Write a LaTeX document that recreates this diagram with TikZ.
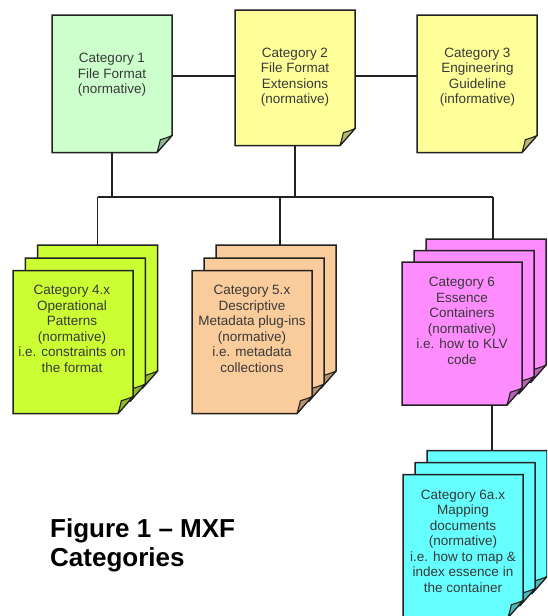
\documentclass[tikz,border=0pt]{standalone}
\usepackage{fontspec}
\setmainfont{Liberation Sans}
\definecolor{cgreen}{HTML}{CCFFCC}
\definecolor{cyellow}{HTML}{FFFF99}
\definecolor{clime}{HTML}{CCFF33}
\definecolor{cpeach}{HTML}{FACC9C}
\definecolor{cpink}{HTML}{FF8CFF}
\definecolor{ccyan}{HTML}{66FFFF}
\definecolor{ink}{HTML}{222222}
% #1 name, #2 x, #3 y (top), #4 fill, #5 height
\newcommand\docpage[5]{%
  \begin{scope}[shift={(#2,#3)}]
    \draw[pageline, fill=#4] (0,0) -- (120,0) -- (120,#5-17) -- (105,#5) -- (0,#5) -- cycle;
    \draw[foldline, fill=#4!72!black] (105,#5) .. controls (106.5,#5-5) and (107.5,#5-9) .. (108.3,#5-12.7)
      .. controls (112,#5-14) and (116,#5-15) .. (120,#5-17) -- cycle;
    \node[anchorbox, minimum height=#5 pt, anchor=north west] (#1) at (0,0) {};
  \end{scope}}
\begin{document}
\begin{tikzpicture}[x=1pt,y=-1pt,
  pageline/.style={draw=ink, line width=1.5pt, line join=miter},
  foldline/.style={draw=ink, line width=1.1pt, line join=round},
  conn/.style={draw=ink, line width=1.4pt},
  lbl/.style={align=center, font=\fontsize{13.5}{15.5}\selectfont, text=ink!90, inner sep=0pt},
  anchorbox/.style={minimum width=120pt, inner sep=0pt, draw=none, outer sep=0pt}]
\useasboundingbox (0,0) rectangle (547,616);
\begin{scope}
\clip (0,0) rectangle (547,616);
% top row
\docpage{c1}{52}{15}{cgreen}{137.5}
\docpage{c2}{235}{10}{cyellow}{135.5}
\docpage{c3}{417}{15}{cyellow}{137.5}
% category 4 stack
\docpage{c4b}{37.5}{245}{clime}{143}
\docpage{c4m}{25.3}{258}{clime}{143}
\docpage{c4}{13}{270.5}{clime}{143}
% category 5 stack
\docpage{c5b}{216}{245}{cpeach}{143}
\docpage{c5m}{204}{258}{cpeach}{143}
\docpage{c5}{192}{270.5}{cpeach}{143}
% category 6 stack
\docpage{c6b}{426}{239}{cpink}{143}
\docpage{c6m}{414}{250.5}{cpink}{143}
\docpage{c6}{402}{262}{cpink}{143}
% category 6a stack
\docpage{c6ab}{427}{450.5}{ccyan}{143}
\docpage{c6am}{415}{462.5}{ccyan}{143}
\docpage{c6a}{403}{474.5}{ccyan}{143}
\end{scope}
% labels
\node[lbl] (t1) at (112,75) {Category 1\\File Format\\(normative)};
\node[lbl] (t2) at (295,77) {Category 2\\File Format\\Extensions\\(normative)};
\node[lbl] (t3) at (477.5,77) {Category 3\\Engineering\\Guideline\\(informative)};
\node[lbl] (t4) at (72,329) {Category 4.x\\Operational\\Patterns\\(normative)\\i.e. constraints on\\the format};
\node[lbl] (t5) at (252,329) {Category 5.x\\Descriptive\\Metadata plug-ins\\(normative)\\i.e. metadata\\collections};
\node[lbl] (t6) at (462,321) {Category 6\\Essence\\Containers\\(normative)\\i.e. how to KLV\\code};
\node[lbl] (t6a) at (463,541) {Category 6a.x\\Mapping\\documents\\(normative)\\i.e. how to map \&\\index essence in\\the container};
% connectors
\coordinate (hl) at (0,76);
\coordinate (busL) at (97.7,197);
\coordinate (busM) at (280,197);
\coordinate (busR) at (493,197);
\coordinate (d6) at (492,0);
\draw[conn] (c1.east |- hl) -- (c2.west |- hl);
\draw[conn] (c2.east |- hl) -- (c3.west |- hl);
\draw[conn] (c1.south) -- (c1.south |- busL);
\draw[conn] (c2.south) -- (c2.south |- busL);
\draw[conn] (busL) -- (busR);
\draw[conn] (busL) -- (busL |- c4b.north);
\draw[conn] (busM) -- (busM |- c5b.north);
\draw[conn] (busR) -- (busR |- c6b.north);
\draw[conn] (c6.south -| d6) -- (c6ab.north -| d6);
% title
\node[anchor=base west, align=left, inner sep=0pt, text=black,
  font=\fontsize{26}{29.5}\selectfont\bfseries] (title) at (50,566.5) {Figure 1 -- MXF\\Categories};
\end{tikzpicture}
\end{document}
